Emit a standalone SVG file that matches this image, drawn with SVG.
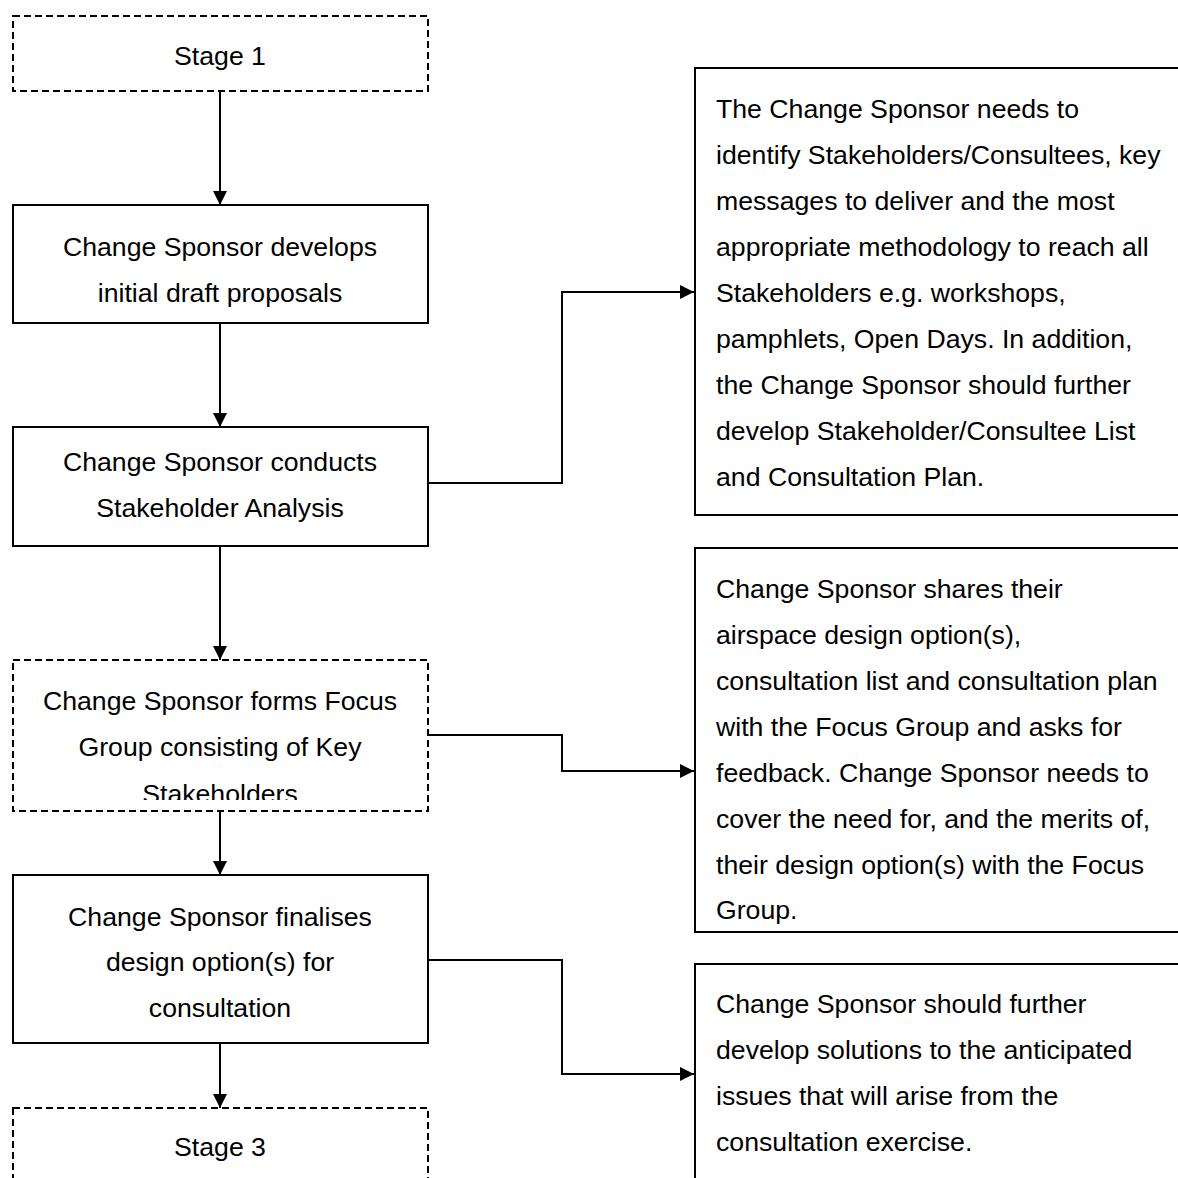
<svg xmlns="http://www.w3.org/2000/svg" width="1178" height="1178" viewBox="0 0 1178 1178">
<style>
  .box { fill: #ffffff; stroke: #000000; stroke-width: 2; }
  .dash { fill: #ffffff; stroke: #000000; stroke-width: 2; stroke-dasharray: 7 4; }
  .t { font-family: "Liberation Sans", Arial, sans-serif; font-size: 26.67px; fill: #000000; }
  .c { text-anchor: middle; }
  .conn { fill: none; stroke: #000000; stroke-width: 2; }
</style>
<defs>
  <marker id="arr" markerUnits="userSpaceOnUse" markerWidth="15" markerHeight="15" refX="14" refY="7" orient="auto">
    <path d="M0,0 L14,7 L0,14 z" fill="#000000"/>
  </marker>
  <clipPath id="clip4"><rect x="13" y="660" width="415" height="140"/></clipPath>
</defs>
<rect width="1178" height="1178" fill="#ffffff"/>

<g id="connectors">
  <path class="conn" d="M220,91 V205" marker-end="url(#arr)"/>
  <path class="conn" d="M220,323 V427" marker-end="url(#arr)"/>
  <path class="conn" d="M220,546 V660" marker-end="url(#arr)"/>
  <path class="conn" d="M220,811 V875" marker-end="url(#arr)"/>
  <path class="conn" d="M220,1043 V1108" marker-end="url(#arr)"/>
  <path class="conn" d="M428,483 H562 V292 H694" marker-end="url(#arr)"/>
  <path class="conn" d="M428,735 H562 V771 H694" marker-end="url(#arr)"/>
  <path class="conn" d="M428,960 H562 V1074 H694" marker-end="url(#arr)"/>
</g>

<g id="stage1">
  <rect class="dash" x="13" y="16" width="415" height="75"/>
  <text class="t c" x="220" y="64.5">Stage 1</text>
</g>

<g id="develops">
  <rect class="box" x="13" y="205" width="415" height="118"/>
  <text class="t c" x="220" y="255.5">Change Sponsor develops</text>
  <text class="t c" x="220" y="301.5">initial draft proposals</text>
</g>

<g id="analysis">
  <rect class="box" x="13" y="427" width="415" height="119"/>
  <text class="t c" x="220" y="470.5">Change Sponsor conducts</text>
  <text class="t c" x="220" y="516.5">Stakeholder Analysis</text>
</g>

<g id="focus">
  <rect class="dash" x="13" y="660" width="415" height="151"/>
  <g clip-path="url(#clip4)">
    <text class="t c" x="220" y="709.5">Change Sponsor forms Focus</text>
    <text class="t c" x="220" y="756">Group consisting of Key</text>
    <text class="t c" x="220" y="802.5">Stakeholders</text>
  </g>
</g>

<g id="finalises">
  <rect class="box" x="13" y="875" width="415" height="168"/>
  <text class="t c" x="220" y="925.5">Change Sponsor finalises</text>
  <text class="t c" x="220" y="970.5">design option(s) for</text>
  <text class="t c" x="220" y="1016.5">consultation</text>
</g>

<g id="stage3">
  <rect class="dash" x="13" y="1108" width="415" height="100"/>
  <text class="t c" x="220" y="1155.5">Stage 3</text>
</g>

<g id="note1">
  <rect class="box" x="695" y="68" width="520" height="447"/>
  <text class="t" x="716" y="117.5">The Change Sponsor needs to</text>
  <text class="t" x="716" y="163.5">identify Stakeholders/Consultees, key</text>
  <text class="t" x="716" y="209.5">messages to deliver and the most</text>
  <text class="t" x="716" y="255.5">appropriate methodology to reach all</text>
  <text class="t" x="716" y="301.5">Stakeholders e.g. workshops,</text>
  <text class="t" x="716" y="347.5">pamphlets, Open Days. In addition,</text>
  <text class="t" x="716" y="393.5">the Change Sponsor should further</text>
  <text class="t" x="716" y="439.5">develop Stakeholder/Consultee List</text>
  <text class="t" x="716" y="485.5">and Consultation Plan.</text>
</g>

<g id="note2">
  <rect class="box" x="695" y="548" width="520" height="384"/>
  <text class="t" x="716" y="597.5">Change Sponsor shares their</text>
  <text class="t" x="716" y="643.5">airspace design option(s),</text>
  <text class="t" x="716" y="689.5">consultation list and consultation plan</text>
  <text class="t" x="716" y="735.5">with the Focus Group and asks for</text>
  <text class="t" x="716" y="781.5">feedback. Change Sponsor needs to</text>
  <text class="t" x="716" y="827.5">cover the need for, and the merits of,</text>
  <text class="t" x="716" y="873.5">their design option(s) with the Focus</text>
  <text class="t" x="716" y="918.5">Group.</text>
</g>

<g id="note3">
  <rect class="box" x="695" y="964" width="520" height="260"/>
  <text class="t" x="716" y="1012.5">Change Sponsor should further</text>
  <text class="t" x="716" y="1058.5">develop solutions to the anticipated</text>
  <text class="t" x="716" y="1104.5">issues that will arise from the</text>
  <text class="t" x="716" y="1150.5">consultation exercise.</text>
</g>
</svg>
